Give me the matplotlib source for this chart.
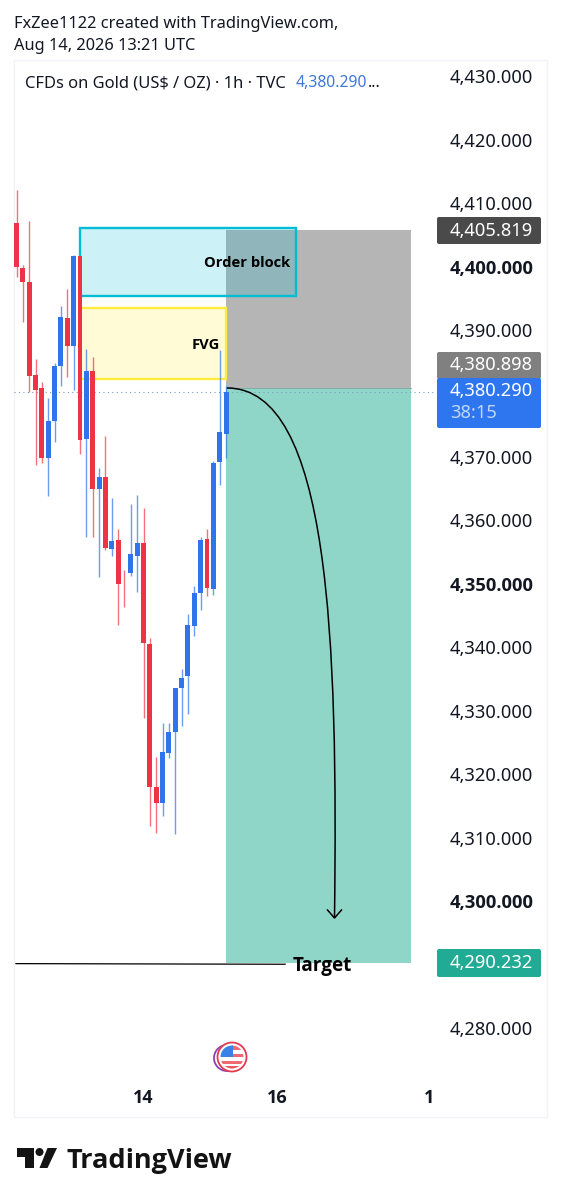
import matplotlib
matplotlib.use("Agg")
import matplotlib.pyplot as plt
from matplotlib.patches import Rectangle, PathPatch, Circle, Polygon, FancyBboxPatch
from matplotlib.path import Path

plt.rcParams['font.family'] = ['Noto Sans', 'DejaVu Sans']
BOLD = ['Open Sans', 'DejaVu Sans']

# ---------- data ----------
highs = [4412.1, 4400.2, 4407.1, 4385.4, 4381.8, 4379.2, 4384.8, 4393.7, 4396.5, 4401.8, 4401.7, 4387.0,
         4385.7, 4368.3, 4373.3, 4363.5, 4358.7, 4352.1, 4362.6, 4364.0, 4362.0, 4341.4, 4322.7, 4328.0,
         4328.0, 4333.6, 4336.6, 4345.2, 4349.6, 4357.3, 4358.6, 4369.4, 4386.8, 4381.2]
tops = [4406.9, 4399.8, 4397.5, 4382.9, 4380.8, 4375.7, 4384.3, 4392.0, 4391.9, 4401.7, 4401.7, 4383.5,
        4383.5, 4366.9, 4366.9, 4356.8, 4356.9, 4350.0, 4354.7, 4356.5, 4356.5, 4340.5, 4318.0, 4323.5,
        4326.7, 4333.5, 4335.2, 4343.5, 4348.5, 4356.9, 4357.0, 4369.1, 4373.9, 4380.3]
bottoms = [4399.9, 4397.6, 4382.7, 4380.5, 4369.8, 4369.8, 4375.7, 4384.3, 4387.5, 4387.5, 4372.7, 4372.8,
           4364.9, 4364.9, 4355.7, 4355.5, 4350.0, 4349.9, 4351.7, 4354.3, 4340.7, 4317.9, 4315.4, 4315.4,
           4323.4, 4326.7, 4333.5, 4335.5, 4343.4, 4348.6, 4349.3, 4349.1, 4369.2, 4373.6]
lows = [4398.3, 4391.3, 4380.2, 4368.7, 4369.1, 4363.8, 4372.3, 4381.2, 4382.6, 4380.5, 4370.5, 4357.4,
        4357.4, 4351.0, 4355.3, 4354.4, 4343.5, 4346.4, 4351.3, 4348.7, 4328.8, 4311.9, 4310.7, 4313.4,
        4322.5, 4310.6, 4327.6, 4329.4, 4341.7, 4345.8, 4348.0, 4348.2, 4365.6, 4369.9]
up = [0, 0, 0, 0, 0, 1, 1, 1, 0, 1, 0, 1, 0, 1, 0, 1, 0, 0, 1, 1, 0, 0, 0, 1, 1, 1, 1, 1, 1, 1, 0, 1, 1, 1]

price_ticks = [4430, 4420, 4410, 4400, 4390, 4370, 4360, 4350, 4340, 4330, 4320, 4310, 4300, 4280]
bold_ticks = [4400, 4350, 4300]
time_positions = [20, 41, 65]
time_labels = ['14', '16', '1']

stop_level = 4405.819
entry_level = 4380.898
last_price = 4380.290
target_level = 4290.232
ob_top, ob_bottom = 4406.1, 4395.4
fvg_top, fvg_bottom = 4393.4, 4382.2
entry_bar = 33
box_end_bar = 62.1
ob_end_bar = 44
zone_start_bar = 10

W, H = 561, 1200
BLUE, RED = '#2f74ea', '#ee3346'
TXT = '#131722'

fig = plt.figure(figsize=(W / 100, H / 100), dpi=100, facecolor='white')


def ax_rect(l, t, r, b):
    return [l / W, 1 - b / H, (r - l) / W, (b - t) / H]


bg = fig.add_axes([0, 0, 1, 1], zorder=0)
bg.set_xlim(0, W)
bg.set_ylim(H, 0)
bg.axis('off')
bg.add_patch(Rectangle((14, 60), 533, 1057, fc='white', ec='#f0f3fa', lw=1))

ax = fig.add_axes(ax_rect(14, 60, 436, 1080), zorder=1)
ax.patch.set_alpha(0)
ax.set_xlim(-0.394, 66.06)
ax.set_ylim(4271.79, 4432.55)
for s in ax.spines.values():
    s.set_visible(False)
ax.yaxis.tick_right()
ax.set_yticks(price_ticks)
ax.set_yticklabels([f'{p:,.3f}' for p in price_ticks])
for lab, p in zip(ax.get_yticklabels(), price_ticks):
    lab.set_fontsize(13.2)
    lab.set_color(TXT)
    if p in bold_ticks:
        lab.set_fontfamily(BOLD)
        lab.set_fontweight('bold')
ax.tick_params(axis='y', length=0, pad=10)
ax.set_xticks(time_positions)
ax.set_xticklabels(time_labels, fontsize=13, fontweight='bold', family=BOLD, color=TXT)
ax.tick_params(axis='x', length=0, pad=6.5)

# risk / reward zones
ax.add_patch(Rectangle((entry_bar, entry_level), box_end_bar - entry_bar, stop_level - entry_level,
                       fc='#b5b5b5', ec='none', zorder=1))
ax.add_patch(Rectangle((entry_bar, target_level), box_end_bar - entry_bar, entry_level - target_level,
                       fc='#8fd6c9', ec='none', zorder=1))
ax.plot([entry_bar, box_end_bar], [entry_level, entry_level], color='#7fa8a0', lw=0.6, zorder=1.1)

# order block and FVG
ax.add_patch(Rectangle((zone_start_bar, ob_bottom), ob_end_bar - zone_start_bar, ob_top - ob_bottom,
                       fc=(0, 0.737, 0.831, 0.2), ec='#00bcd4', lw=1.7, zorder=2))
ax.add_patch(Rectangle((zone_start_bar, fvg_bottom), entry_bar - zone_start_bar, fvg_top - fvg_bottom,
                       fc=(1, 0.922, 0.231, 0.2), ec='#ffeb3b', lw=1.7, zorder=2))

# last price line
ax.axhline(last_price, color='#7a9cc0', lw=0.8, ls=(0, (1, 3)), zorder=2.5)

# candles
xs = list(range(len(up)))
cols = [BLUE if u else RED for u in up]
ax.vlines(xs, lows, highs, colors=cols, lw=1.0, alpha=0.7, zorder=3)
ax.bar(xs, [t - b for t, b in zip(tops, bottoms)], bottom=bottoms, width=0.78, color=cols, lw=0, zorder=4)

# target line
ax.plot([-0.08, 42.3], [target_level - 0.1, target_level - 0.2], color='black', lw=0.9, zorder=5)

# page overlay
ov = fig.add_axes([0, 0, 1, 1], zorder=5)
ov.set_xlim(0, W)
ov.set_ylim(H, 0)
ov.axis('off')
ov.patch.set_alpha(0)

ov.text(14, 23.5, 'FxZee1122 created with TradingView.com,', fontsize=11.8, color=TXT, va='center')
ov.text(14, 45.5, 'Aug 14, 2026 13:21 UTC', fontsize=11.8, color=TXT, va='center')
ov.text(25, 83, 'CFDs on Gold (US$ / OZ) · 1h · TVC', fontsize=11.9, color=TXT, va='center')
ov.text(296, 83, '4,380.290', fontsize=11.3, color='#3f78d8', va='center')
ov.text(368, 83, '...', fontsize=11.3, color=TXT, va='center')

ov.text(204, 263, 'Order block', fontsize=10.6, fontweight='bold', family=BOLD, color='black', va='center')
ov.text(192, 345, 'FVG', fontsize=10.6, fontweight='bold', family=BOLD, color='black', va='center')
ov.text(293, 966, 'Target', fontsize=13.6, fontweight='bold', family=BOLD, color='black', va='center')

# curved arrow
ov.add_patch(PathPatch(Path([(227, 388), (330, 388), (338, 640), (334.5, 918)],
                            [Path.MOVETO, Path.CURVE4, Path.CURVE4, Path.CURVE4]),
                       fc='none', ec='black', lw=1.1))
ov.plot([327.5, 334.5, 341.5], [910, 918, 910], color='black', lw=1.1)


def tag(t, b, color):
    ov.add_patch(FancyBboxPatch((437, t), 104, b - t, boxstyle='round,pad=0,rounding_size=2',
                                fc=color, ec='none'))


tag(217, 244, '#4a4a4a')
ov.text(450, 230.5, f'{stop_level:,.3f}', fontsize=13.2, color='white', va='center')
tag(352, 379, '#808080')
ov.text(450, 365, f'{entry_level:,.3f}', fontsize=13.2, color='white', va='center')
tag(378, 428, '#2e76f0')
ov.text(450, 391.5, f'{last_price:,.3f}', fontsize=13.2, color='white', va='center')
ov.text(450, 413, '38:15', fontsize=13.2, color='#c0d6fb', va='center')
tag(949, 977, '#22ab94')
ov.text(450, 963, f'{target_level:,.3f}', fontsize=13.2, color='white', va='center')

# event flag icon
ov.add_patch(Circle((227, 1058), 13, fc='white', ec='#8e3fb5', lw=1.3))
ov.add_patch(Circle((232, 1057), 14.5, fc='white', ec='#e23b4f', lw=1.3))
clip = Circle((232, 1057), 11.5, transform=ov.transData)
for y0, h0, x0, w0, c0 in [(1045, 5, 232, 13, '#ef6a70'), (1054, 3, 232, 13, '#ef6a70'),
                           (1061, 3, 220, 24, '#ef6a70'), (1066, 4, 220, 24, '#e9555f'),
                           (1045, 12, 220, 13, '#3b82e6')]:
    r = Rectangle((x0, y0), w0, h0, fc=c0, ec='none')
    ov.add_patch(r)
    r.set_clip_path(clip)

# TradingView logo
ov.add_patch(Polygon([(17, 1148), (34, 1148), (34, 1168), (25, 1168), (25, 1157), (17, 1157)], fc='#131313', ec='none'))
ov.add_patch(Circle((39.5, 1152), 4, fc='#131313', ec='none'))
ov.add_patch(Polygon([(47.5, 1148), (57, 1148), (47.5, 1168), (39.5, 1168)], fc='#131313', ec='none'))
ov.text(67, 1161, 'TradingView', fontsize=19.5, fontweight='bold', family=BOLD, color='#131313', va='center')

fig.savefig('out.png', dpi=100)
